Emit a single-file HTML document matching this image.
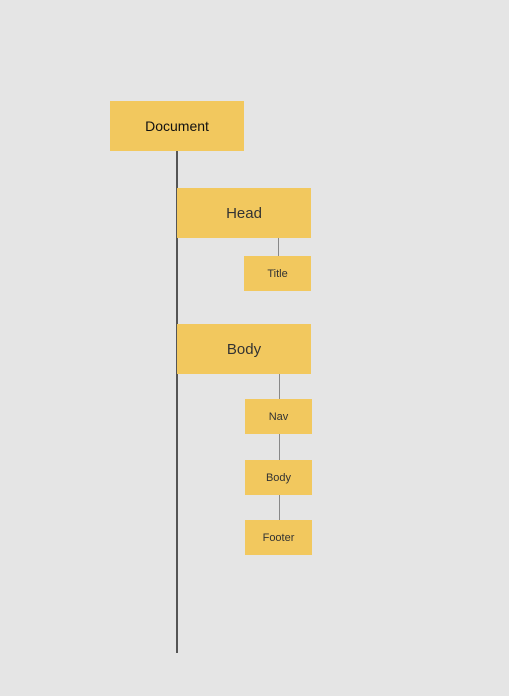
<!DOCTYPE html>
<html><head><style>
body{margin:0;width:509px;height:696px;background:#e5e5e5;position:relative;overflow:hidden;font-family:"Liberation Sans",sans-serif;}
.b{position:absolute;background:#f2c85e;color:#333;display:flex;align-items:center;justify-content:center;}
.l{position:absolute;background:#555;}
.s{position:absolute;background:#888;width:1.5px;}
</style></head><body>
<div class="l" style="left:176px;top:150px;width:2px;height:503px"></div>
<div class="b" style="left:110px;top:101px;width:134px;height:50px;font-size:14px;color:#111">Document</div>
<div class="b" style="left:177px;top:188px;width:134px;height:50px;font-size:15px">Head</div>
<div class="s" style="left:277.5px;top:238px;height:18px"></div>
<div class="b" style="left:244px;top:256px;width:67px;height:35px;font-size:11px">Title</div>
<div class="b" style="left:177px;top:324px;width:134px;height:50px;font-size:15px">Body</div>
<div class="s" style="left:278.5px;top:374px;height:25px"></div>
<div class="b" style="left:245px;top:399px;width:67px;height:35px;font-size:11px">Nav</div>
<div class="s" style="left:278.5px;top:434px;height:26px"></div>
<div class="b" style="left:245px;top:460px;width:67px;height:35px;font-size:11px">Body</div>
<div class="s" style="left:278.5px;top:495px;height:25px"></div>
<div class="b" style="left:245px;top:520px;width:67px;height:35px;font-size:11px">Footer</div>
</body></html>
